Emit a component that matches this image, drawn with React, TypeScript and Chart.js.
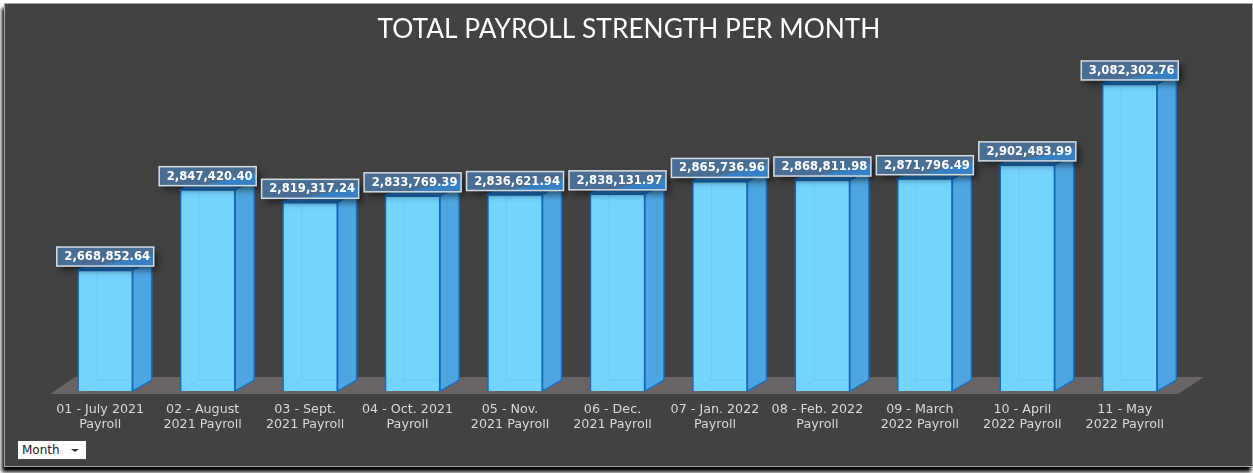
import React, { useEffect, useRef } from "react";
import { Chart, registerables } from "chart.js";

Chart.register(...registerables);

const months: string[][] = [
  ["01 - July 2021", "Payroll"],
  ["02 - August", "2021 Payroll"],
  ["03 - Sept.", "2021 Payroll"],
  ["04 - Oct. 2021", "Payroll"],
  ["05 - Nov.", "2021 Payroll"],
  ["06 - Dec.", "2021 Payroll"],
  ["07 - Jan. 2022", "Payroll"],
  ["08 - Feb. 2022", "Payroll"],
  ["09 - March", "2022 Payroll"],
  ["10 - April", "2022 Payroll"],
  ["11 - May", "2022 Payroll"],
];
const payroll: number[] = [
  2668852.64, 2847420.4, 2819317.24, 2833769.39, 2836621.94, 2838131.97,
  2865736.96, 2868811.98, 2871796.49, 2902483.99, 3082302.76,
];
const chartTitle = "TOTAL PAYROLL STRENGTH PER MONTH";
const filterLabel = "Month";

const DX = 19;
const DY = 11;

const fmt = (v: number) =>
  v.toLocaleString("en-US", { minimumFractionDigits: 2, maximumFractionDigits: 2 });

const poly = (ctx: CanvasRenderingContext2D, pts: number[][], fill: string, stroke?: string) => {
  ctx.beginPath();
  pts.forEach((p, i) => (i ? ctx.lineTo(p[0], p[1]) : ctx.moveTo(p[0], p[1])));
  ctx.closePath();
  ctx.fillStyle = fill;
  ctx.fill();
  if (stroke) {
    ctx.strokeStyle = stroke;
    ctx.lineWidth = 1.5;
    ctx.stroke();
  }
};

const bar3d = {
  id: "bar3d",
  beforeDatasetsDraw(chart: any) {
    const { ctx, chartArea } = chart;
    const b = chartArea.bottom;
    ctx.save();
    ctx.fillStyle = "#ffffff";
    ctx.font = "26.3px Lato";
    ctx.textAlign = "center";
    ctx.textBaseline = "middle";
    ctx.fillText(chartTitle, 629, 30);
    poly(ctx, [
      [chartArea.left - 4, b + 3],
      [chartArea.right - 3, b + 3],
      [chartArea.right + 23, b - 14],
      [chartArea.left + 21, b - 14],
    ], "#6b6464");
    chart.getDatasetMeta(0).data.forEach((el: any) => {
      const x0 = el.x - el.width / 2;
      const x1 = el.x + el.width / 2;
      const t = el.y;
      poly(ctx, [[x1, t], [x1 + DX, t - DY], [x1 + DX, b - DY], [x1, b]], "#4ea6e1", "#1a70c0");
      poly(ctx, [[x0, t], [x1, t], [x1 + DX, t - DY], [x0 + DX, t - DY]], "#2a80cc", "#1a70c0");
    });
    ctx.restore();
  },
  afterDatasetsDraw(chart: any) {
    const { ctx, chartArea } = chart;
    const b = chartArea.bottom;
    ctx.save();
    const meta = chart.getDatasetMeta(0);
    meta.data.forEach((el: any) => {
      const x0 = el.x - el.width / 2;
      const x1 = el.x + el.width / 2;
      ctx.strokeStyle = "rgba(30,120,200,0.08)";
      ctx.lineWidth = 1;
      ctx.beginPath();
      ctx.moveTo(x0 + DX, el.y);
      ctx.lineTo(x0 + DX, b - DY);
      ctx.lineTo(x1, b - DY);
      ctx.moveTo(x0 + DX, b - DY);
      ctx.lineTo(x0, b);
      ctx.stroke();
    });
    meta.data.forEach((el: any, i: number) => {
      const w = 97;
      const h = 19;
      const x = el.x - w / 2;
      const y = el.y - 4 - h;
      ctx.save();
      ctx.shadowColor = "rgba(0,0,0,0.55)";
      ctx.shadowBlur = 7;
      ctx.shadowOffsetX = 4;
      ctx.shadowOffsetY = 4;
      ctx.fillStyle = "#3f3f3f";
      ctx.fillRect(x, y, w, h);
      ctx.restore();
      ctx.fillStyle = "#4a6e93";
      ctx.fillRect(x, y, w, h);
      poly(ctx, [[x + w * 0.42, y + h], [x + w, y + h], [x + w, y + h * 0.35]], "rgba(45,135,215,0.7)");
      ctx.strokeStyle = "#d5dde4";
      ctx.lineWidth = 1.5;
      ctx.strokeRect(x, y, w, h);
      ctx.fillStyle = "#ffffff";
      ctx.font = "bold 11.6px 'DejaVu Sans'";
      ctx.textAlign = "center";
      ctx.textBaseline = "middle";
      ctx.fillText(fmt(payroll[i]), el.x + 2, y + h / 2 + 0.5);
    });
    ctx.restore();
  },
};

export default function App() {
  const ref = useRef<HTMLCanvasElement | null>(null);
  useEffect(() => {
    document.body.style.margin = "0";
    document.body.style.background = "#fff";
    const chart = new Chart(ref.current as HTMLCanvasElement, {
      type: "bar",
      data: {
        labels: months,
        datasets: [
          {
            data: payroll,
            backgroundColor: "rgba(115,212,252,1)",
            borderColor: "#1668ba",
            borderWidth: 1.5,
            barThickness: 55,
          },
        ],
      },
      options: {
        responsive: false,
        animation: false,
        layout: { padding: { left: 54, right: 72, top: 76, bottom: 38 } },
        plugins: {
          legend: { display: false },
          tooltip: { enabled: false },
          title: { display: false },
        },
        scales: {
          x: {
            grid: { display: false },
            border: { display: false },
            ticks: {
              color: "#d9d9d9",
              font: { family: "'DejaVu Sans'", size: 12.7, lineHeight: 1.18 },
              maxRotation: 0,
              autoSkip: false,
              padding: 3,
              labelOffset: -5,
            },
          },
          y: { display: false, min: 2400000, max: 3100000 },
        },
      },
      plugins: [bar3d],
    } as any);
    return () => chart.destroy();
  }, []);
  return (
    <div style={{ position: "relative", width: 1253, height: 473, overflow: "hidden", background: "#fff" }}>
      <div
        style={{
          position: "absolute",
          left: 4,
          top: 3,
          width: 1247,
          height: 462,
          background: "#424242",
          border: "1px solid #a8a8a8",
          boxShadow: "-2px 5px 4px #000",
        }}
      />
      <canvas ref={ref} width={1253} height={473} style={{ position: "absolute", left: 0, top: 0, display: "block" }} />
      <div
        style={{
          position: "absolute",
          left: 18,
          top: 441,
          width: 68,
          height: 18,
          background: "#fff",
          color: "#222",
          font: "12px 'DejaVu Sans'",
          lineHeight: "19px",
          paddingLeft: 4,
          boxSizing: "border-box",
        }}
      >
        {filterLabel}
        <span style={{ position: "absolute", left: 53, top: 8, width: 0, height: 0, borderLeft: "4px solid transparent", borderRight: "4px solid transparent", borderTop: "3px solid #333" }} />
      </div>
    </div>
  );
}
